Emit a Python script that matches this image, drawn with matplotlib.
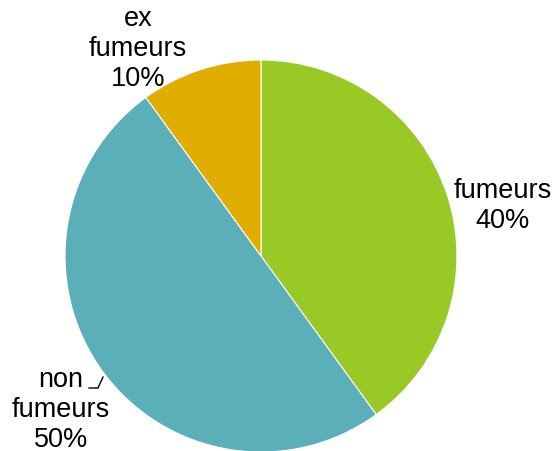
import matplotlib.pyplot as plt

labels = ["fumeurs\n40%", "non\nfumeurs\n50%", "ex\nfumeurs\n10%"]
values = [40, 50, 10]
colors = ["#99C924", "#5AAFB8", "#DFAE00"]

W, H = 554, 452
cx, cy, r = 261, 257, 196

fig = plt.figure(figsize=(W / 100, H / 100), dpi=100)
ax = fig.add_axes([(cx - r) / W, (H - cy - r) / H, 2 * r / W, 2 * r / H])
ax.pie(values, colors=colors, startangle=90, counterclock=False,
       wedgeprops=dict(edgecolor="white", linewidth=0.8))
ax.set_xlim(-1, 1)
ax.set_ylim(-1, 1)
ax.set_aspect("equal")
ax.axis("off")


def px(x, y):
    return ((x - cx) / r, (cy - y) / r)


font = dict(fontsize=19.5, family=["Liberation Sans", "DejaVu Sans"],
            ha="center", va="center", linespacing=1.22)
ax.text(*px(503, 206), labels[0], **font)
ax.text(*px(61, 410), labels[1], **font)
ax.text(*px(138, 49), labels[2], **font)

# leader line for "non fumeurs"
xs, ys = zip(*[px(89, 389), px(98, 389), px(103, 378)])
ax.plot(xs, ys, color="black", lw=1, clip_on=False)

fig.savefig("out.png", dpi=100)
